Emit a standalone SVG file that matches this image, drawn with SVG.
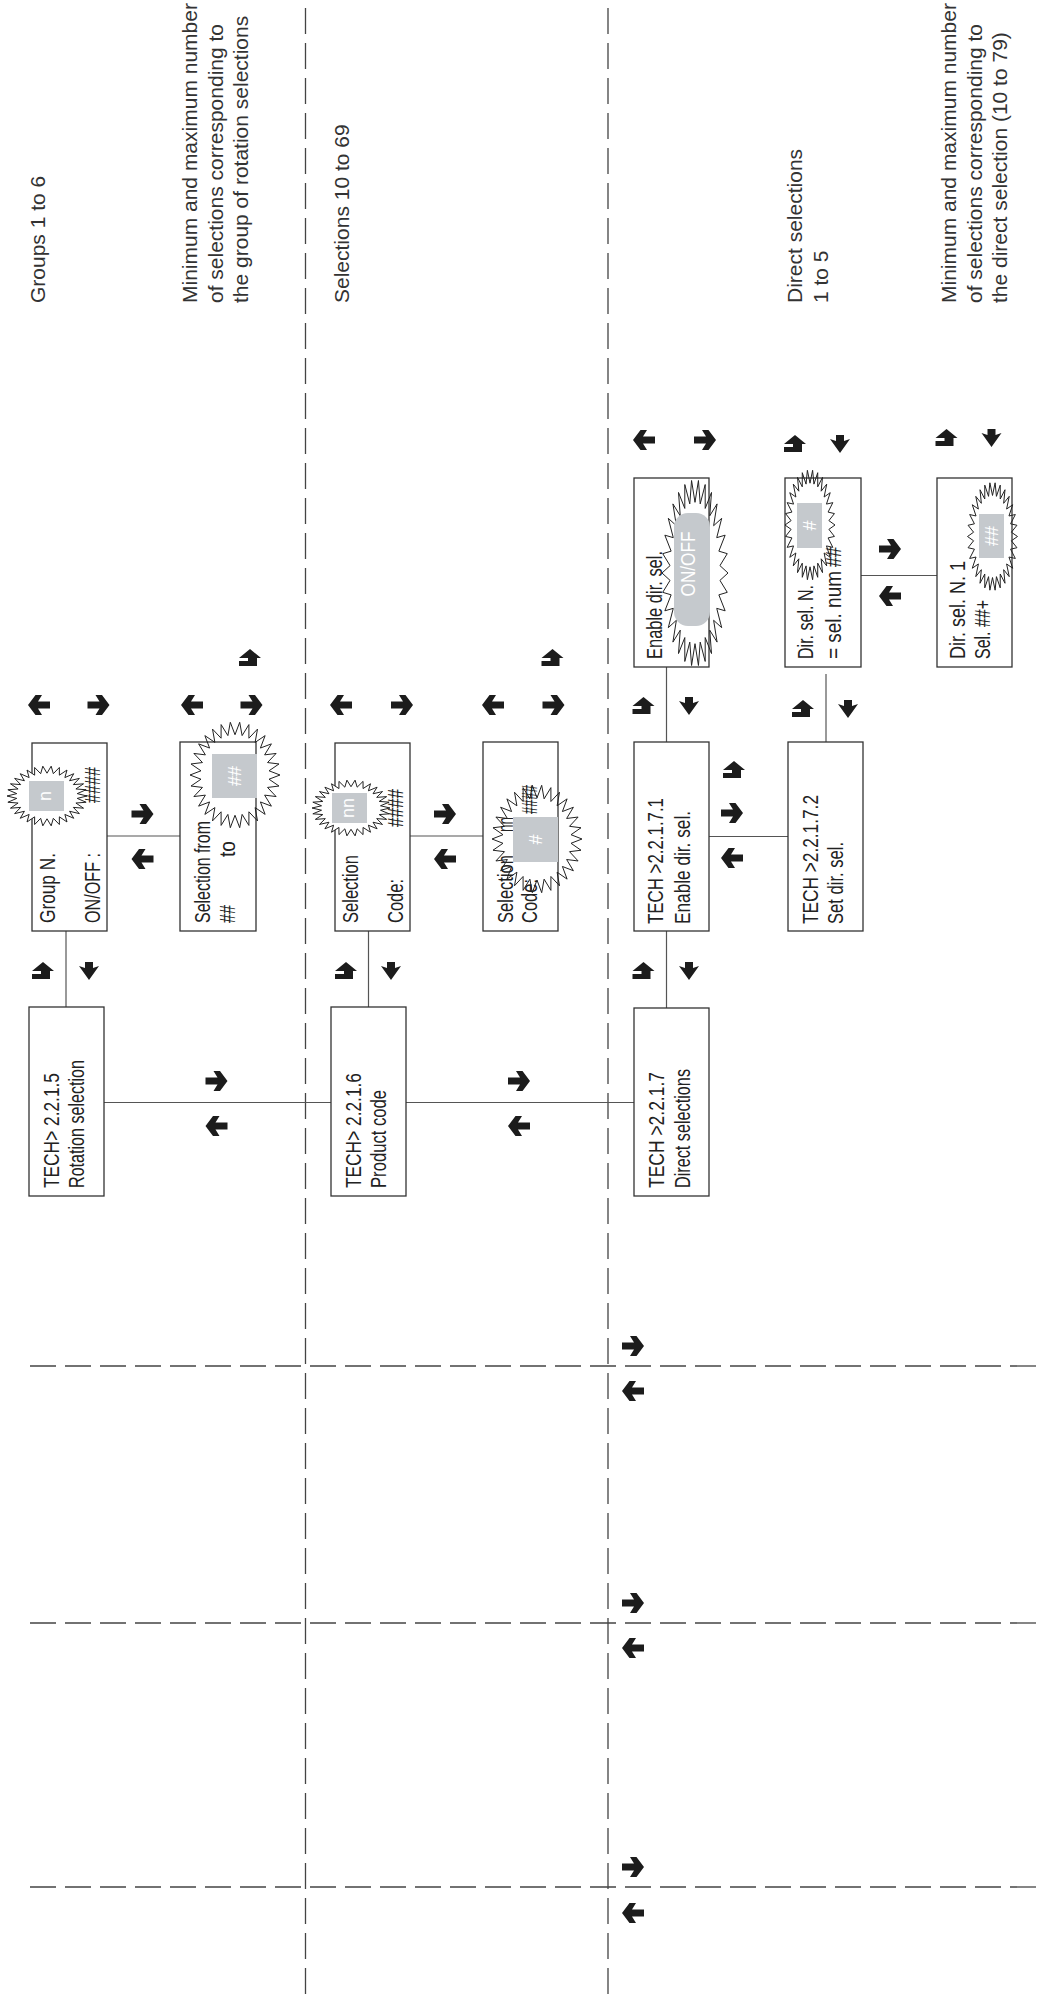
<svg xmlns="http://www.w3.org/2000/svg" xmlns:xlink="http://www.w3.org/1999/xlink" width="1040" height="1996" viewBox="0 0 1040 1996">
<style>
.bg{fill:#fff}
.box{fill:none;stroke:#333;stroke-width:1.3}
.conn{fill:none;stroke:#555;stroke-width:1.2}
.dash{fill:none;stroke:#444;stroke-width:1.3;stroke-dasharray:26 9}
.lcd{font-family:"Liberation Sans",Arial,sans-serif;font-size:22px;fill:#222}
.note{font-family:"Liberation Sans",Arial,sans-serif;font-size:21px;fill:#333}
.wt{font-family:"Liberation Sans",Arial,sans-serif;font-size:18px;fill:#fff;text-anchor:middle}
.sq{fill:#c5c9cd}
.arr{fill:#1c1c1c}
</style>
<defs>
<path id="star" vector-effect="non-scaling-stroke" d="M1,0 L.7558,.0794 L.9781,.2079 L.7228,.2348 L.9135,.4067 L.6582,.38 L.809,.5878 L.5648,.5085 L.6691,.7431 L.4467,.6148 L.5,.866 L.3091,.6943 L.309,.9511 L.158,.7434 L.1045,.9945 L0,.76 L-.1045,.9945 L-.158,.7434 L-.309,.9511 L-.3091,.6943 L-.5,.866 L-.4467,.6148 L-.6691,.7431 L-.5648,.5085 L-.809,.5878 L-.6582,.38 L-.9135,.4067 L-.7228,.2348 L-.9781,.2079 L-.7558,.0794 L-1,0 L-.7558,-.0794 L-.9781,-.2079 L-.7228,-.2348 L-.9135,-.4067 L-.6582,-.38 L-.809,-.5878 L-.5648,-.5085 L-.6691,-.7431 L-.4467,-.6148 L-.5,-.866 L-.3091,-.6943 L-.309,-.9511 L-.158,-.7434 L-.1045,-.9945 L0,-.76 L.1045,-.9945 L.158,-.7434 L.309,-.9511 L.3091,-.6943 L.5,-.866 L.4467,-.6148 L.6691,-.7431 L.5648,-.5085 L.809,-.5878 L.6582,-.38 L.9135,-.4067 L.7228,-.2348 L.9781,-.2079 L.7558,-.0794 Z"/>
<path id="aR" d="M-11,-3.5 L1,-3.5 L-3,-10 L3.5,-10 L11,0 L3.5,10 L-3,10 L1,3.5 L-11,3.5 Z"/>
<path id="aL" d="M11,-3.5 L-1,-3.5 L3,-10 L-3.5,-10 L-11,0 L-3.5,10 L3,10 L-1,3.5 L11,3.5 Z"/>
<path id="aD" d="M-4,-9 L4,-9 L4,-3 L10,-5 L0,9 L-10,-5 L-4,-3 Z"/>
<path id="aU" d="M0,-9 L11,0 L7,0 L7,8 L-11,8 L-11,3 L-2,3 L-2,0 L-11,0 Z"/>
</defs>
<rect class="bg" x="0" y="0" width="1040" height="1996"/>

<g id="notes">
<text class="note" transform="translate(45,303) rotate(-90)">Groups 1 to 6</text>
<text class="note" transform="translate(197,303) rotate(-90)">Minimum and maximum number</text>
<text class="note" transform="translate(223,303) rotate(-90)">of selections corresponding to</text>
<text class="note" transform="translate(248,303) rotate(-90)">the group of rotation selections</text>
<text class="note" transform="translate(349,303) rotate(-90)">Selections 10 to 69</text>
<text class="note" transform="translate(802,303) rotate(-90)">Direct selections</text>
<text class="note" transform="translate(828,303) rotate(-90)">1 to 5</text>
<text class="note" transform="translate(956,303) rotate(-90)">Minimum and maximum number</text>
<text class="note" transform="translate(982,303) rotate(-90)">of selections corresponding to</text>
<text class="note" transform="translate(1007,303) rotate(-90)">the direct selection (10 to 79)</text>
</g>

<g id="dividers">
<line class="dash" x1="305.5" y1="8" x2="305.5" y2="1996"/>
<line class="dash" x1="608" y1="8" x2="608" y2="1996"/>
<line class="dash" x1="30" y1="1366" x2="1040" y2="1366"/>
<line class="dash" x1="30" y1="1623" x2="1040" y2="1623"/>
<line class="dash" x1="30" y1="1887" x2="1040" y2="1887"/>
</g>

<g id="connectors">
<line class="conn" x1="66" y1="931" x2="66" y2="1007"/>
<line class="conn" x1="107" y1="836" x2="180" y2="836"/>
<line class="conn" x1="104" y1="1102.5" x2="331" y2="1102.5"/>
<line class="conn" x1="368.5" y1="931" x2="368.5" y2="1007"/>
<line class="conn" x1="410" y1="836" x2="483" y2="836"/>
<line class="conn" x1="406" y1="1102.5" x2="634" y2="1102.5"/>
<line class="conn" x1="666.5" y1="931" x2="666.5" y2="1008"/>
<line class="conn" x1="666.5" y1="667" x2="666.5" y2="742"/>
<line class="conn" x1="709" y1="836.5" x2="788" y2="836.5"/>
<line class="conn" x1="826" y1="674" x2="826" y2="742"/>
<line class="conn" x1="861" y1="575.5" x2="937" y2="575.5"/>
</g>

<g id="arrows" class="arr">
<use xlink:href="#aL" x="39" y="705"/><use xlink:href="#aR" x="98.5" y="705"/>
<use xlink:href="#aL" x="192" y="705"/><use xlink:href="#aR" x="251.5" y="705"/>
<use xlink:href="#aU" x="250" y="658"/>
<use xlink:href="#aR" x="142.5" y="814"/><use xlink:href="#aL" x="142.5" y="859"/>
<use xlink:href="#aU" x="43" y="971"/><use xlink:href="#aD" x="89" y="971"/>
<use xlink:href="#aR" x="216.5" y="1081"/><use xlink:href="#aL" x="216.5" y="1126"/>
<use xlink:href="#aL" x="341" y="705"/><use xlink:href="#aR" x="402" y="705"/>
<use xlink:href="#aL" x="493" y="705"/><use xlink:href="#aR" x="553.5" y="705"/>
<use xlink:href="#aU" x="552.5" y="658"/>
<use xlink:href="#aR" x="445" y="814"/><use xlink:href="#aL" x="445" y="859"/>
<use xlink:href="#aU" x="346" y="971"/><use xlink:href="#aD" x="391" y="971"/>
<use xlink:href="#aR" x="519" y="1081"/><use xlink:href="#aL" x="519" y="1126"/>
<use xlink:href="#aL" x="644" y="440"/><use xlink:href="#aR" x="705" y="440"/>
<use xlink:href="#aU" x="643.5" y="706"/><use xlink:href="#aD" x="689" y="706"/>
<use xlink:href="#aU" x="643.5" y="971"/><use xlink:href="#aD" x="689" y="971"/>
<use xlink:href="#aU" x="734" y="770"/><use xlink:href="#aR" x="732" y="813"/><use xlink:href="#aL" x="732" y="858"/>
<use xlink:href="#aU" x="795" y="444"/><use xlink:href="#aD" x="840" y="444"/>
<use xlink:href="#aU" x="803" y="709"/><use xlink:href="#aD" x="848" y="709"/>
<use xlink:href="#aR" x="890" y="549"/><use xlink:href="#aL" x="890" y="596"/>
<use xlink:href="#aU" x="946.5" y="438"/><use xlink:href="#aD" x="991.5" y="438"/>
<use xlink:href="#aR" x="633" y="1346"/><use xlink:href="#aL" x="633" y="1391"/>
<use xlink:href="#aR" x="633" y="1603"/><use xlink:href="#aL" x="633" y="1648"/>
<use xlink:href="#aR" x="633" y="1867"/><use xlink:href="#aL" x="633" y="1913"/>
</g>

<g id="n-2215">
<rect class="box" x="29" y="1007" width="75" height="189"/>
<text class="lcd" transform="translate(59,1188) rotate(-90)" textLength="115" lengthAdjust="spacingAndGlyphs">TECH&gt; 2.2.1.5</text>
<text class="lcd" transform="translate(84,1188) rotate(-90)" textLength="128" lengthAdjust="spacingAndGlyphs">Rotation selection</text>
</g>

<g id="n-groupn">
<rect class="box" x="32" y="743" width="75" height="188"/>
<text class="lcd" transform="translate(55,923) rotate(-90)" textLength="70" lengthAdjust="spacingAndGlyphs">Group N.</text>
<text class="lcd" transform="translate(100,923) rotate(-90)" textLength="70" lengthAdjust="spacingAndGlyphs">ON/OFF :</text>
<use xlink:href="#star" transform="translate(47,796) scale(40,30)" fill="#fff" stroke="#222" stroke-width="1"/>
<rect class="sq" x="29" y="781" width="35" height="30"/>
<text class="wt" transform="translate(51,796) rotate(-90)">n</text>
<text class="lcd" transform="translate(100,803) rotate(-90)" textLength="36" lengthAdjust="spacingAndGlyphs">####</text>
</g>

<g id="n-selfrom">
<rect class="box" x="180" y="742" width="76" height="189"/>
<text class="lcd" transform="translate(210,923) rotate(-90)" textLength="102" lengthAdjust="spacingAndGlyphs">Selection from</text>
<text class="lcd" transform="translate(235,923) rotate(-90)" textLength="18" lengthAdjust="spacingAndGlyphs">##</text>
<text class="lcd" transform="translate(235,857) rotate(-90)" textLength="16" lengthAdjust="spacingAndGlyphs">to</text>
<use xlink:href="#star" transform="translate(235,775) scale(45,53)" fill="none" stroke="#222" stroke-width="1"/>
<rect class="sq" x="212" y="754" width="45" height="44"/>
<text class="wt" transform="translate(241,776) rotate(-90)">##</text>
</g>

<g id="n-2216">
<rect class="box" x="331" y="1007" width="75" height="189"/>
<text class="lcd" transform="translate(361,1188) rotate(-90)" textLength="115" lengthAdjust="spacingAndGlyphs">TECH&gt; 2.2.1.6</text>
<text class="lcd" transform="translate(386,1188) rotate(-90)" textLength="98" lengthAdjust="spacingAndGlyphs">Product code</text>
</g>

<g id="n-selcode1">
<rect class="box" x="335" y="743" width="75" height="188"/>
<text class="lcd" transform="translate(358,923) rotate(-90)" textLength="68" lengthAdjust="spacingAndGlyphs">Selection</text>
<text class="lcd" transform="translate(403,923) rotate(-90)" textLength="44" lengthAdjust="spacingAndGlyphs">Code:</text>
<use xlink:href="#star" transform="translate(351,808) scale(39,28)" fill="#fff" stroke="#222" stroke-width="1"/>
<rect class="sq" x="332" y="793" width="35" height="30"/>
<text class="wt" transform="translate(354,808) rotate(-90)">nn</text>
<text class="lcd" transform="translate(403,827) rotate(-90)" textLength="38" lengthAdjust="spacingAndGlyphs">####</text>
</g>

<g id="n-selcode2">
<rect class="box" x="483" y="742" width="75" height="189"/>
<text class="lcd" transform="translate(513,923) rotate(-90)" textLength="68" lengthAdjust="spacingAndGlyphs">Selection</text>
<text class="lcd" transform="translate(513,832) rotate(-90)" textLength="15" lengthAdjust="spacingAndGlyphs">nn</text>
<text class="lcd" transform="translate(537,923) rotate(-90)" textLength="44" lengthAdjust="spacingAndGlyphs">Code:</text>
<text class="lcd" transform="translate(537,814) rotate(-90)" textLength="29" lengthAdjust="spacingAndGlyphs">####</text>
<use xlink:href="#star" transform="translate(537,839) scale(45,54)" fill="none" stroke="#222" stroke-width="1"/>
<rect class="sq" x="513" y="817" width="45" height="45"/>
<text class="wt" transform="translate(542,839.5) rotate(-90)">#</text>
</g>

<g id="n-2217">
<rect class="box" x="634" y="1008" width="75" height="188"/>
<text class="lcd" transform="translate(664,1188) rotate(-90)" textLength="116" lengthAdjust="spacingAndGlyphs">TECH &gt;2.2.1.7</text>
<text class="lcd" transform="translate(690,1188) rotate(-90)" textLength="119" lengthAdjust="spacingAndGlyphs">Direct selections</text>
</g>

<g id="n-22171">
<rect class="box" x="634" y="742" width="75" height="189"/>
<text class="lcd" transform="translate(663,924) rotate(-90)" textLength="126" lengthAdjust="spacingAndGlyphs">TECH &gt;2.2.1.7.1</text>
<text class="lcd" transform="translate(690,924) rotate(-90)" textLength="113" lengthAdjust="spacingAndGlyphs">Enable dir. sel.</text>
</g>

<g id="n-22172">
<rect class="box" x="788" y="742" width="75" height="189"/>
<text class="lcd" transform="translate(818,924) rotate(-90)" textLength="129" lengthAdjust="spacingAndGlyphs">TECH &gt;2.2.1.7.2</text>
<text class="lcd" transform="translate(843,924) rotate(-90)" textLength="82" lengthAdjust="spacingAndGlyphs">Set dir. sel.</text>
</g>

<g id="n-enable">
<rect class="box" x="634" y="478" width="75" height="189"/>
<text class="lcd" transform="translate(662,659) rotate(-90)" textLength="108" lengthAdjust="spacingAndGlyphs">Enable dir. sel.</text>
<use xlink:href="#star" transform="translate(695,573) scale(33,93)" fill="none" stroke="#222" stroke-width="1"/>
<rect class="sq" x="674" y="513" width="36" height="113" rx="14" ry="14"/>
<text class="wt" style="font-size:20px" transform="translate(695,564) rotate(-90)" textLength="65" lengthAdjust="spacingAndGlyphs">ON/OFF</text>
</g>

<g id="n-dirseln">
<rect class="box" x="785" y="478" width="76" height="189"/>
<text class="lcd" transform="translate(813,659) rotate(-90)" textLength="74" lengthAdjust="spacingAndGlyphs">Dir. sel. N.</text>
<text class="lcd" transform="translate(841,659) rotate(-90)" textLength="88" lengthAdjust="spacingAndGlyphs">= sel. num</text>
<text class="lcd" transform="translate(841,567) rotate(-90)" textLength="20" lengthAdjust="spacingAndGlyphs">##</text>
<use xlink:href="#star" transform="translate(810,525) scale(25,55)" fill="none" stroke="#222" stroke-width="1"/>
<rect class="sq" x="797" y="503" width="25" height="45"/>
<text class="wt" transform="translate(815.5,525.5) rotate(-90)">#</text>
</g>

<g id="n-dirseln1">
<rect class="box" x="937" y="478" width="75" height="189"/>
<text class="lcd" transform="translate(965,659) rotate(-90)" textLength="98" lengthAdjust="spacingAndGlyphs">Dir. sel. N. 1</text>
<text class="lcd" transform="translate(990,659) rotate(-90)" textLength="59" lengthAdjust="spacingAndGlyphs">Sel. ##+</text>
<use xlink:href="#star" transform="translate(992.5,536.5) scale(25,54)" fill="none" stroke="#222" stroke-width="1"/>
<rect class="sq" x="979" y="514" width="25" height="44"/>
<text class="wt" transform="translate(997.5,536) rotate(-90)">##</text>
</g>
</svg>
